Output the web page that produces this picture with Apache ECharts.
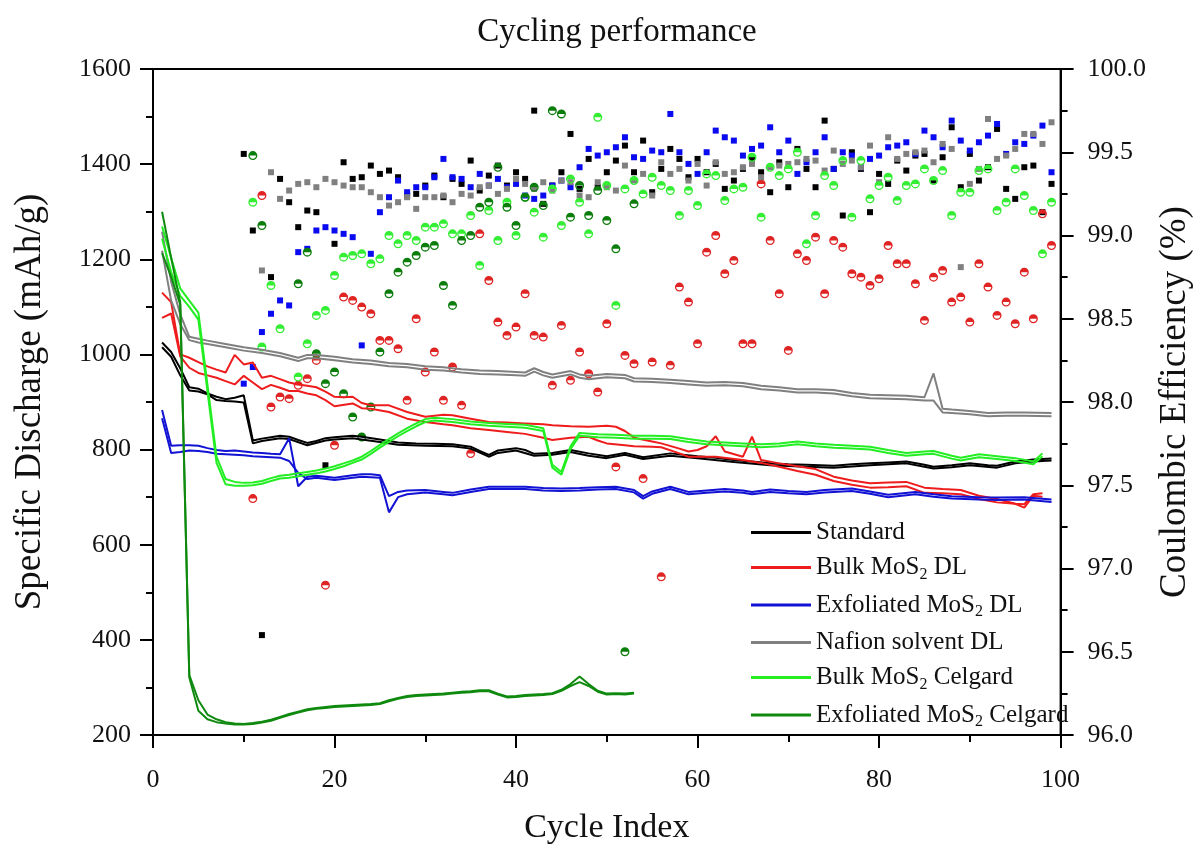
<!DOCTYPE html>
<html>
<head>
<meta charset="utf-8">
<script src="https://cdn.jsdelivr.net/npm/echarts@6/dist/echarts.min.js"></script>
<style>
  html, body { margin: 0; padding: 0; background: #fff; }
  #chart { width: 1202px; height: 850px; }
</style>
</head>
<body>
<div id="chart"></div>
<script>
const FONT = '"Liberation Serif", "DejaVu Serif", serif';

const seriesNames = ['Standard', 'Bulk MoS2 DL', 'Exfoliated MoS2 DL', 'Nafion solvent DL', 'Bulk MoS2 Celgard', 'Exfoliated MoS2 Celgard'];
const seriesColors = ['#000000', '#ee1c1c', '#1212d4', '#808080', '#22ee22', '#0f8a0f'];
const ceColors = ['#000000', '#e02424', '#0a0af0', '#808080', '#33ee33', '#0b7d0b'];

const capacityTicks = [200, 400, 600, 800, 1000, 1200, 1400, 1600];
const efficiencyTicks = ['96.0', '96.5', '97.0', '97.5', '98.0', '98.5', '99.0', '99.5', '100.0'];
const cycleTicks = [0, 20, 40, 60, 80, 100];

// Specific discharge, [cycle, mAh/g]; two traces per cell
const standardA = [[1,1025],[2,1005],[3,971],[4,931],[5,928],[6,918],[7,911],[8,906],[9,909],[10,914],[11,819],[12,823],[13,826],[14,829],[15,827],[16,820],[17,814],[18,818],[19,824],[20,826],[22,829],[23,827],[25,821],[27,815],[29,813],[31,812],[33,811],[35,806],[36,797],[37,789],[38,798],[40,803],[41,799],[42,791],[44,793],[46,799],[48,792],[50,786],[52,793],[54,784],[57,792],[60,786],[62,783],[64,778],[66,775],[68,771],[70,769],[72,768],[75,766],[77,769],[79,771],[81,773],[83,775],[85,768],[86,764],[88,767],[90,771],[92,767],[93,766],[95,775],[97,779],[99,781]];
const standardB = [[1,1015],[2,995],[3,956],[4,924],[5,922],[6,916],[7,904],[8,902],[9,901],[10,899],[11,813],[12,818],[14,824],[15,822],[17,809],[19,819],[20,821],[22,824],[25,816],[27,810],[30,808],[33,807],[35,802],[37,785],[38,793],[40,798],[42,787],[44,789],[46,795],[48,787],[50,782],[52,789],[54,780],[57,787],[60,782],[64,774],[68,767],[72,764],[75,762],[79,767],[83,771],[86,760],[88,763],[90,767],[93,762],[95,771],[97,775],[99,777]];

const bulkDLA = [[1,1130],[2,1110],[3,1000],[4,993],[5,984],[6,975],[7,968],[8,962],[9,999],[10,979],[11,983],[12,951],[13,955],[14,948],[15,941],[16,937],[17,934],[18,931],[19,922],[20,911],[21,910],[22,911],[23,898],[24,893],[26,893],[28,879],[30,869],[32,873],[33,872],[35,865],[37,858],[39,857],[41,855],[43,853],[44,851],[46,849],[48,848],[50,850],[51,848],[52,839],[53,825],[55,817],[56,813],[58,802],[59,796],[60,799],[61,807],[62,828],[63,796],[65,785],[66,827],[67,778],[69,771],[71,765],[73,759],[75,743],[77,735],[79,729],[81,731],[83,732],[85,720],[87,717],[89,715],[91,703],[93,696],[95,686],[96,678],[97,703],[98,701]];
const bulkDLB = [[1,1077],[2,1086],[3,996],[4,972],[5,961],[6,956],[7,951],[8,944],[9,937],[10,955],[11,941],[12,927],[13,936],[14,930],[15,923],[16,923],[17,918],[18,914],[19,904],[20,891],[22,897],[23,887],[24,886],[26,879],[28,865],[30,858],[32,853],[33,851],[35,845],[37,841],[39,837],[41,833],[43,825],[44,820],[46,825],[48,827],[49,819],[50,813],[52,809],[53,807],[55,806],[56,805],[58,792],[59,785],[62,785],[65,778],[67,772],[69,764],[71,755],[73,747],[75,734],[77,726],[79,720],[81,721],[83,723],[85,709],[87,708],[89,706],[91,696],[93,689],[95,686],[96,685],[97,706],[98,708]];

const exfDLA = [[1,883],[2,808],[3,809],[4,809],[5,808],[6,803],[7,799],[8,797],[9,798],[10,796],[11,794],[12,793],[13,791],[14,790],[15,824],[16,723],[17,743],[18,745],[20,741],[22,746],[23,748],[24,748],[25,746],[26,702],[27,711],[28,714],[30,715],[32,711],[33,709],[35,716],[37,722],[39,722],[41,722],[43,719],[45,718],[47,719],[49,721],[51,722],[53,715],[54,702],[55,712],[57,722],[59,711],[61,714],[63,717],[65,714],[66,711],[68,716],[70,713],[72,711],[74,715],[77,718],[79,712],[81,705],[84,711],[86,706],[88,702],[91,700],[93,699],[96,700],[99,695]];
const exfDLB = [[1,866],[2,793],[3,795],[4,798],[5,797],[6,795],[7,791],[8,790],[9,789],[10,788],[11,786],[12,785],[13,784],[14,783],[15,776],[16,751],[17,738],[18,741],[20,736],[22,741],[23,743],[24,742],[25,741],[26,668],[27,700],[28,706],[30,710],[32,706],[33,704],[35,711],[37,717],[39,717],[41,717],[43,714],[45,713],[47,714],[49,716],[51,717],[53,710],[54,697],[55,707],[57,717],[59,706],[61,709],[63,712],[65,709],[66,706],[68,711],[70,708],[72,706],[74,710],[77,713],[79,707],[81,700],[84,706],[86,701],[88,697],[91,695],[93,694],[96,695],[99,690]];

const nafionA = [[1,1258],[2,1153],[3,1084],[4,1037],[5,1033],[6,1029],[8,1022],[10,1015],[12,1010],[14,1003],[16,993],[17,999],[18,999],[20,995],[22,990],[24,987],[26,982],[28,980],[30,975],[32,973],[34,969],[36,966],[38,965],[40,963],[41,962],[42,971],[43,963],[44,958],[46,965],[47,958],[48,955],[50,959],[52,957],[53,950],[55,949],[57,947],[59,944],[61,941],[63,942],[65,940],[67,934],[69,931],[71,927],[73,927],[75,925],[77,919],[79,915],[81,914],[83,913],[85,910],[86,960],[87,886],[88,884],[90,881],[92,877],[94,878],[96,878],[99,877]];
const nafionB = [[1,1218],[2,1113],[3,1064],[4,1030],[5,1025],[6,1022],[8,1015],[10,1008],[12,1003],[14,996],[16,986],[17,992],[18,992],[20,988],[22,983],[24,980],[26,975],[28,973],[30,968],[32,966],[34,962],[36,959],[38,958],[40,956],[41,955],[42,964],[43,956],[44,951],[46,958],[47,951],[48,948],[50,952],[52,950],[53,943],[55,942],[57,940],[59,937],[61,934],[63,935],[65,933],[67,927],[69,924],[71,920],[73,920],[75,918],[77,912],[79,908],[81,907],[83,906],[85,903],[86,903],[87,878],[88,877],[90,874],[92,870],[94,871],[96,871],[99,870]];

const bulkCelA = [[1,1269],[2,1203],[3,1139],[4,1113],[5,1088],[7,785],[8,738],[9,732],[10,730],[11,731],[12,734],[13,740],[14,745],[15,747],[16,750],[17,753],[18,756],[19,760],[20,765],[21,771],[22,777],[23,785],[24,797],[25,810],[26,822],[27,834],[28,845],[29,855],[30,864],[31,867],[33,864],[35,859],[37,856],[39,854],[41,852],[43,845],[44,768],[45,753],[46,807],[47,835],[49,832],[51,831],[53,829],[55,829],[57,828],[59,822],[61,817],[63,815],[65,813],[67,811],[69,813],[71,817],[73,813],[75,810],[77,808],[79,806],[81,799],[83,793],[85,796],[86,797],[88,787],[89,783],[91,790],[93,786],[95,782],[97,775],[98,792]];
const bulkCelB = [[1,1243],[2,1173],[3,1123],[4,1100],[5,1073],[7,772],[8,727],[9,724],[10,724],[11,725],[12,728],[13,734],[14,739],[15,741],[16,744],[17,747],[18,750],[19,754],[20,759],[21,765],[22,772],[23,779],[24,791],[25,804],[26,816],[27,828],[28,839],[29,849],[30,858],[31,861],[33,858],[35,853],[37,850],[39,848],[41,846],[43,839],[44,762],[45,747],[46,801],[47,829],[49,826],[51,825],[53,823],[55,823],[57,822],[59,816],[61,811],[63,809],[65,807],[67,805],[69,807],[71,811],[73,807],[75,804],[77,802],[79,800],[81,793],[83,787],[85,790],[86,791],[88,781],[89,777],[91,784],[93,780],[95,776],[97,769],[98,786]];

const exfCelA = [[1,1300],[2,1203],[3,1110],[4,326],[5,273],[6,243],[7,233],[8,227],[9,224],[10,223],[11,225],[12,228],[13,232],[14,238],[15,244],[16,249],[17,254],[18,257],[19,259],[20,261],[21,262],[22,263],[23,264],[24,265],[25,267],[26,273],[27,278],[28,282],[29,284],[30,285],[31,286],[32,287],[33,289],[34,291],[35,292],[36,294],[37,294],[38,287],[39,281],[40,282],[41,284],[42,285],[43,286],[44,288],[45,295],[46,307],[47,323],[48,307],[49,293],[50,287],[51,288],[52,287],[53,289]];
const exfCelB = [[1,1213],[2,1163],[3,1105],[4,321],[5,251],[6,233],[7,227],[8,224],[9,222],[10,222],[11,223],[12,226],[13,230],[14,236],[15,242],[16,247],[17,252],[18,255],[19,257],[20,259],[21,260],[22,261],[23,262],[24,263],[25,265],[26,271],[27,276],[28,280],[29,282],[30,283],[31,284],[32,285],[33,287],[34,289],[35,290],[36,292],[37,292],[38,285],[39,279],[40,280],[41,282],[42,283],[43,284],[44,286],[45,293],[46,303],[47,311],[48,303],[49,291],[50,285],[51,286],[52,285],[53,287]];

// Coulombic efficiency (%), one value per cycle from the given first cycle
const ceStandardStart = 10;
const ceStandard = [99.49,99.03,96.60,98.75,99.34,99.20,99.05,99.15,99.14,97.62,98.95,99.44,99.34,99.35,99.42,99.37,99.39,99.35,99.24,99.25,99.30,99.36,99.23,99.34,99.31,99.45,99.27,99.36,99.42,99.30,99.38,99.34,99.75,99.19,99.30,99.38,99.61,99.28,99.46,99.29,99.38,99.45,99.54,99.38,99.57,99.26,99.40,99.52,99.46,99.35,99.46,99.38,99.43,99.28,99.33,99.40,99.46,99.38,99.26,99.44,99.29,99.52,99.40,99.29,99.69,99.40,99.12,99.50,99.40,99.14,99.37,99.31,99.45,99.39,99.48,99.49,99.33,99.47,99.65,99.29,99.49,99.33,99.41,99.64,99.28,99.22,99.41,99.42,99.14,99.31];

const ceBulkDLStart = 11;
const ceBulkDL = [97.42,99.24,97.97,98.03,98.02,98.10,98.14,98.25,96.90,97.74,98.63,98.61,98.57,98.53,98.37,98.37,98.32,98.01,98.50,98.18,98.30,98.01,98.21,97.98,97.69,99.01,98.73,98.48,98.40,98.45,98.65,98.40,98.39,98.10,98.46,98.13,98.30,98.17,98.06,98.47,97.61,98.28,98.23,97.54,98.24,96.95,98.22,98.69,98.60,98.35,98.90,99.00,98.77,98.85,98.35,98.35,99.31,98.97,98.65,98.31,98.89,98.85,98.99,98.65,98.97,98.93,98.77,98.75,98.70,98.74,98.94,98.83,98.83,98.71,98.49,98.75,98.79,98.60,98.63,98.48,98.83,98.69,98.52,98.60,98.47,98.78,98.50,99.13,98.94];

const ceExfDLStart = 10;
const ceExfDL = [98.11,98.21,98.42,98.53,98.61,98.58,98.90,98.92,99.03,99.05,99.03,99.01,98.99,98.34,98.89,99.14,99.23,99.33,99.26,99.29,99.29,99.35,99.46,99.35,99.34,99.29,99.37,99.30,99.34,99.29,99.31,99.24,99.22,99.24,99.30,99.33,99.29,99.41,99.52,99.48,99.50,99.53,99.59,99.47,99.46,99.51,99.50,99.73,99.50,99.43,99.37,99.50,99.63,99.59,99.57,99.48,99.52,99.54,99.65,99.50,99.57,99.37,99.44,99.50,99.59,99.40,99.50,99.48,99.41,99.46,99.48,99.53,99.54,99.56,99.49,99.63,99.59,99.53,99.69,99.57,99.51,99.56,99.60,99.67,99.49,99.56,99.55,99.60,99.66,99.38];

const ceNafionStart = 12;
const ceNafion = [98.79,99.38,99.22,99.27,99.31,99.32,99.29,99.34,99.32,99.30,99.29,99.29,99.26,99.23,99.18,99.20,99.23,99.16,99.23,99.23,99.24,99.20,99.25,99.24,99.29,99.30,99.25,99.28,99.34,99.31,99.28,99.32,99.27,99.33,99.32,99.24,99.23,99.32,99.29,99.27,99.42,99.33,99.37,99.24,99.44,99.37,99.40,99.33,99.43,99.30,99.44,99.37,99.38,99.41,99.43,99.35,99.41,99.42,99.43,99.44,99.46,99.45,99.39,99.51,99.43,99.45,99.41,99.54,99.32,99.59,99.46,99.49,99.50,99.51,99.44,99.55,99.52,98.81,99.31,99.40,99.70,99.46,99.48,99.52,99.61,99.61,99.55,99.68];

const ceBulkCelStart = 11;
const ceBulkCel = [99.20,98.33,98.70,98.44,null,98.15,98.35,98.52,98.55,98.76,98.87,98.88,98.89,98.83,98.86,99.00,98.95,99.00,98.97,99.05,99.05,99.07,99.01,99.01,99.12,98.82,99.15,98.97,99.20,99.00,99.23,99.14,98.99,99.28,99.06,99.34,99.20,99.01,99.71,99.30,98.58,99.28,99.33,99.25,99.35,99.30,99.27,99.12,99.27,99.18,99.37,99.36,99.21,99.28,99.29,99.47,99.11,99.41,99.36,99.40,99.50,98.95,99.12,99.36,99.30,99.45,99.11,99.45,99.22,99.30,99.35,99.21,99.30,99.31,99.40,99.33,99.39,99.12,99.26,99.26,99.39,99.40,99.15,99.20,99.40,99.24,99.15,98.89,99.20];

const ceExfCelStart = 11;
const ceExfCel = [99.48,99.06,null,null,null,98.71,98.90,98.29,98.11,98.18,98.05,97.91,97.79,97.97,98.30,98.65,98.78,98.84,98.88,98.93,98.94,98.70,98.58,98.97,99.00,99.17,99.20,99.41,99.17,99.06,99.23,99.29,99.18,99.75,99.73,99.11,99.30,99.12,99.27,99.09,98.92,96.50,99.19];

const capacitySets = [
  [standardA, standardB], [bulkDLA, bulkDLB], [exfDLA, exfDLB],
  [nafionA, nafionB], [bulkCelA, bulkCelB], [exfCelA, exfCelB]
];
const efficiencySets = [
  [ceStandardStart, ceStandard], [ceBulkDLStart, ceBulkDL], [ceExfDLStart, ceExfDL],
  [ceNafionStart, ceNafion], [ceBulkCelStart, ceBulkCel], [ceExfCelStart, ceExfCel]
];
const ceMarker = ['rect', 'half', 'rect', 'rect', 'half', 'half'];

// circle with the upper half filled and the lower half drawn as a ring
const HALF_DOT = 'path://M-10 0A10 10 0 0 1 10 0Z M10 0A10 10 0 0 1 -10 0L-7 0A7 7 0 0 0 7 0Z';

function cyclePairs(start, values) {
  const out = [];
  values.forEach((v, i) => { if (v !== null) out.push([start + i, v]); });
  return out;
}

const series = [];
efficiencySets.forEach(([start, values], i) => {
  const half = ceMarker[i] === 'half';
  series.push({
    type: 'scatter',
    name: seriesNames[i] + ' CE',
    yAxisIndex: 1,
    data: cyclePairs(start, values),
    symbol: half ? HALF_DOT : 'rect',
    symbolSize: half ? 9 : 6,
    symbolKeepAspect: true,
    itemStyle: { color: ceColors[i], opacity: 1 },
    z: 2,
    silent: true
  });
});
capacitySets.forEach((pair, i) => {
  pair.forEach(data => {
    series.push({
      type: 'line',
      name: seriesNames[i],
      data: data,
      symbol: 'none',
      showSymbol: false,
      lineStyle: { color: seriesColors[i], width: 2 },
      itemStyle: { color: seriesColors[i] },
      z: 3,
      silent: true
    });
  });
});

const axisLine = { show: true, lineStyle: { color: '#000', width: 2 } };
const axisTick = { show: true, length: 13, lineStyle: { color: '#000', width: 2 } };
const minorTick = { show: true, splitNumber: 2, length: 7, lineStyle: { color: '#000', width: 2 } };
const labelStyle = { fontFamily: FONT, fontSize: 26, color: '#111' };
const nameStyle = { fontFamily: FONT, fontSize: 34, color: '#111' };
const sideNameStyle = { fontFamily: FONT, fontSize: 37, color: '#111' };

const chart = echarts.init(document.getElementById('chart'), null, { renderer: 'canvas' });
chart.setOption({
  animation: false,
  backgroundColor: '#fff',
  title: {
    text: 'Cycling performance',
    left: 612, top: 11, textAlign: 'center',
    textStyle: { fontFamily: FONT, fontSize: 33, fontWeight: 'normal', color: '#111' }
  },
  grid: { left: 153, right: 133, top: 69, bottom: 104, show: true, borderColor: '#000', borderWidth: 2, backgroundColor: 'transparent' },
  legend: {
    data: seriesNames.map(name => ({ name, icon: 'rect' })),
    orient: 'vertical',
    left: 746, top: 515,
    itemWidth: 60, itemHeight: 3, itemGap: 10,
    formatter: name => name.replace('MoS2', 'MoS{sub|2}'),
    textStyle: {
      fontFamily: FONT, fontSize: 25, color: '#111',
      rich: { sub: { fontFamily: FONT, fontSize: 16, color: '#111', padding: [14, 0, 0, 0] } }
    },
    selectedMode: false
  },
  xAxis: {
    type: 'value', min: cycleTicks[0], max: cycleTicks[cycleTicks.length - 1], interval: 20,
    name: 'Cycle Index', nameLocation: 'middle', nameGap: 76, nameTextStyle: nameStyle,
    axisLine, axisTick, minorTick,
    axisLabel: Object.assign({ margin: 32, formatter: v => String(v) }, labelStyle),
    splitLine: { show: false }
  },
  yAxis: [
    {
      type: 'value', min: capacityTicks[0], max: capacityTicks[capacityTicks.length - 1], interval: 200,
      name: 'Specific Discharge (mAh/g)', nameLocation: 'middle', nameGap: 104, nameRotate: 90,
      nameTextStyle: sideNameStyle,
      axisLine, axisTick, minorTick,
      axisLabel: Object.assign({ margin: 22, formatter: v => String(v) }, labelStyle),
      splitLine: { show: false }
    },
    {
      type: 'value', position: 'right', min: 96, max: 100, interval: 0.5,
      name: 'Coulombic Efficiency (%)', nameLocation: 'middle', nameGap: 96, nameRotate: 90,
      nameTextStyle: sideNameStyle,
      axisLine, axisTick, minorTick,
      axisLabel: Object.assign({ margin: 27, formatter: v => efficiencyTicks[Math.round((v - 96) * 2)] }, labelStyle),
      splitLine: { show: false }
    }
  ],
  series
});
</script>
</body>
</html>
